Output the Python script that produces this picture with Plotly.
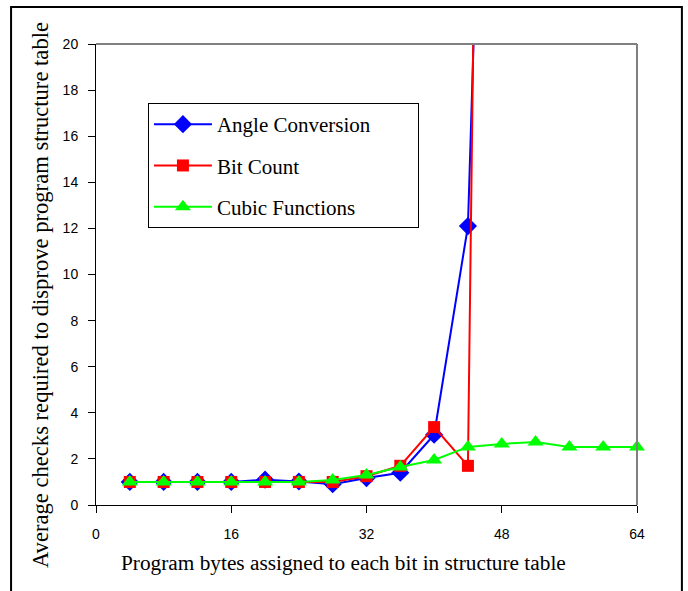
import plotly.graph_objects as go

x_ac = [4, 8, 12, 16, 20, 24, 28, 32, 36, 40, 44, 48]
angle_conversion = [1.0, 1.0, 1.0, 1.0, 1.1, 1.02, 0.9, 1.17, 1.4, 3.05, 12.1, 60]
x_bc = [4, 8, 12, 16, 20, 24, 28, 32, 36, 40, 44, 48]
bit_count = [1.0, 1.0, 1.0, 1.0, 1.0, 1.0, 1.0, 1.25, 1.7, 3.38, 1.7, 120]
x_cf = [4, 8, 12, 16, 20, 24, 28, 32, 36, 40, 44, 48, 52, 56, 60, 64]
cubic_functions = [1.0, 1.0, 1.0, 1.0, 1.0, 1.0, 1.08, 1.3, 1.65, 1.95, 2.52, 2.65, 2.73, 2.52, 2.52, 2.52]

x_ticks = [0, 16, 32, 48, 64]
y_ticks = [0, 2, 4, 6, 8, 10, 12, 14, 16, 18, 20]

x_title = "Program bytes assigned to each bit in structure table"
y_title = "Average checks required to disprove program structure table"

serif = "Liberation Serif, Times New Roman, serif"
sans = "Liberation Sans, Arial, sans-serif"
pad = "\u00a0" * 8  # extra right padding inside the legend box

fig = go.Figure()
fig.add_trace(go.Scatter(x=x_ac, y=angle_conversion, name="Angle Conversion" + pad, mode="lines+markers",
                         line=dict(color="#0000FF", width=2),
                         marker=dict(symbol="diamond", size=14, color="#0000FF"),
                         legendgroup="a"))
fig.add_trace(go.Scatter(x=x_bc, y=bit_count, name="Bit Count", mode="lines+markers",
                         line=dict(color="#FF0000", width=2),
                         marker=dict(symbol="square", size=12, color="#FF0000"),
                         legendgroup="b"))
fig.add_trace(go.Scatter(x=x_cf, y=cubic_functions, name="Cubic Functions", mode="lines+markers",
                         line=dict(color="#00FF00", width=2),
                         marker=dict(symbol="triangle-up", size=14, color="#00FF00"),
                         legendgroup="c", cliponaxis=False))

fig.update_layout(
    width=688, height=591,
    margin=dict(l=96, r=51, t=44, b=86),
    paper_bgcolor="white", plot_bgcolor="white",
    showlegend=True,
    legend=dict(x=0.096, y=0.872, xanchor="left", yanchor="top",
                bgcolor="white", bordercolor="black", borderwidth=1,
                font=dict(family=serif, size=21, color="black"),
                tracegroupgap=11, itemwidth=58),
    xaxis=dict(range=[0, 64], tickvals=x_ticks, ticks="outside", ticklen=7, tickcolor="black",
               showline=True, linecolor="black", linewidth=1, showgrid=False, zeroline=False,
               ticklabelstandoff=9,
               tickfont=dict(family=sans, size=14, color="black")),
    yaxis=dict(range=[0, 20], tickvals=y_ticks, ticks="outside", ticklen=7, tickcolor="black",
               showline=True, linecolor="black", linewidth=1, showgrid=False, zeroline=False,
               ticklabelstandoff=7,
               tickfont=dict(family=sans, size=14, color="black")),
    annotations=[
        dict(text=x_title, xref="paper", yref="paper", x=0.4584, y=-0.1258,
             xanchor="center", yanchor="middle", showarrow=False,
             font=dict(family=serif, size=21.3, color="black")),
        dict(text=y_title, xref="paper", yref="paper", x=-0.1035, y=0.4555,
             xanchor="center", yanchor="middle", showarrow=False, textangle=-90,
             font=dict(family=serif, size=22.6, color="black")),
    ],
    shapes=[
        dict(type="line", xref="paper", yref="paper", x0=0, x1=1, y0=1, y1=1,
             line=dict(color="#808080", width=2)),
        dict(type="line", xref="paper", yref="paper", x0=1, x1=1, y0=0, y1=1,
             line=dict(color="#808080", width=2)),
        dict(type="rect", xref="paper", yref="paper", x0=-0.157, x1=1.083, y0=-0.3, y1=1.0803,
             line=dict(color="black", width=2), layer="below"),
    ],
)

fig.write_html("out.html", config={"displayModeBar": False},
               post_script="document.body.style.margin='0';")
